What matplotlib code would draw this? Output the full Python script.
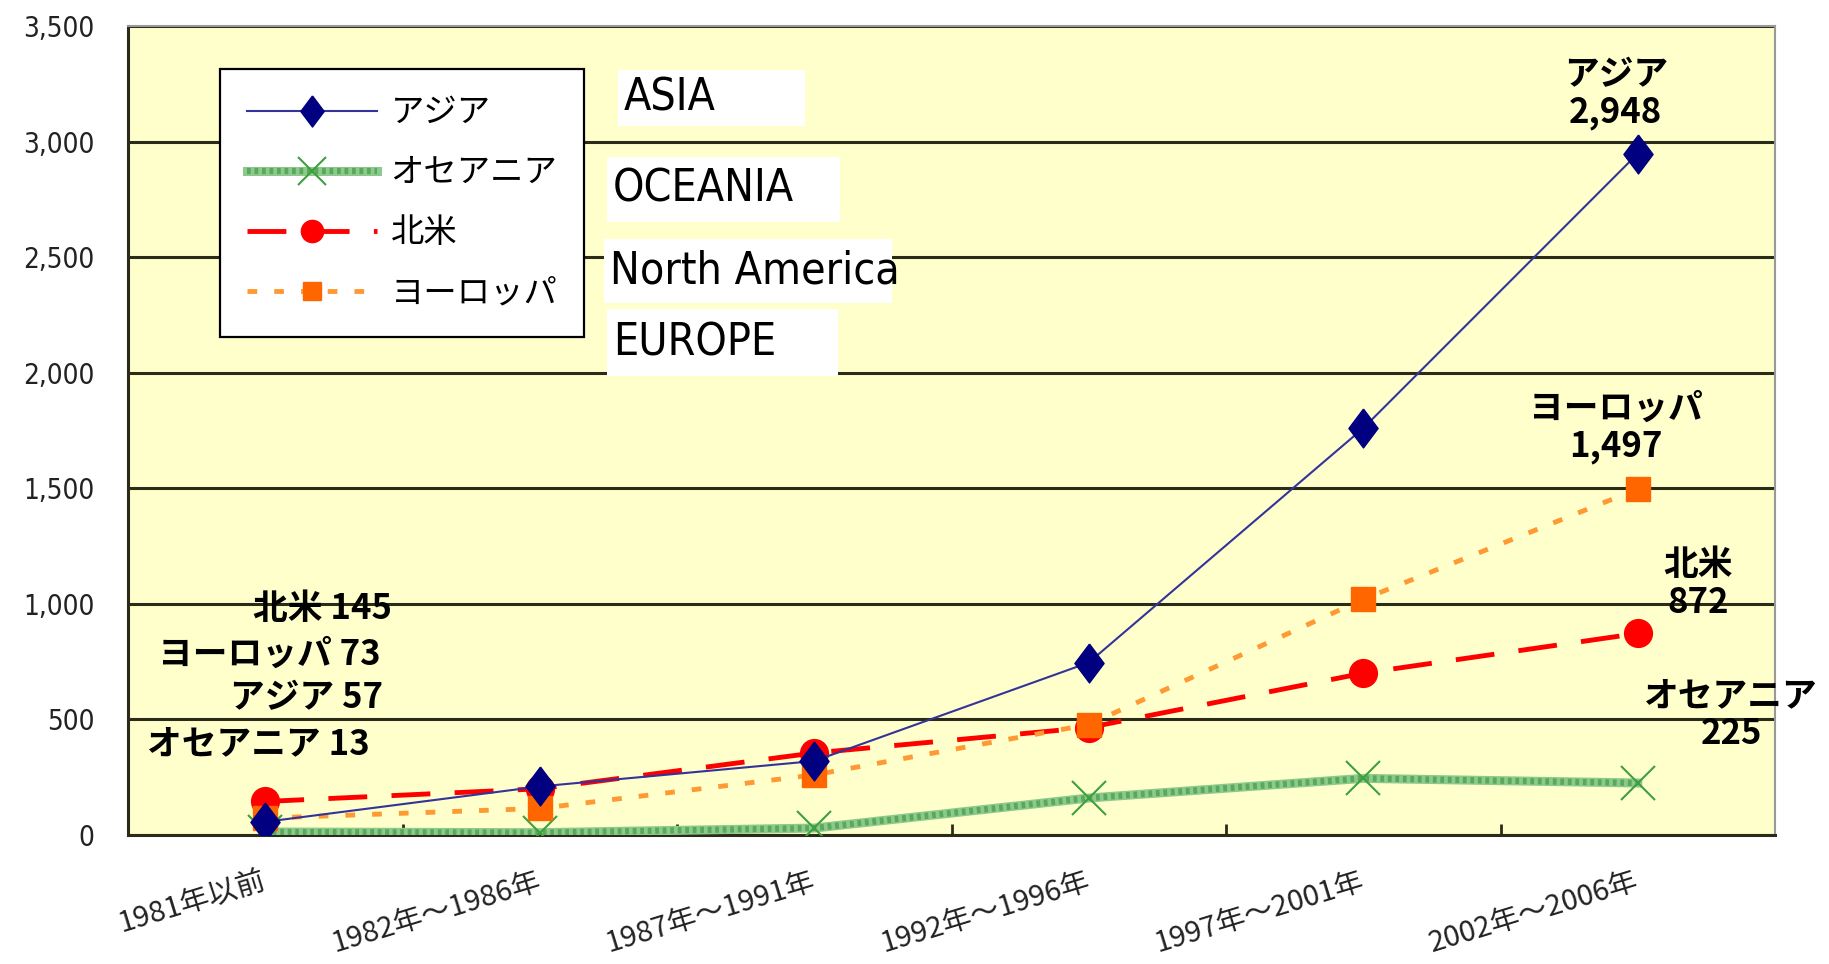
import matplotlib

matplotlib.use("Agg")

import matplotlib.pyplot as plt
from matplotlib.legend_handler import HandlerTuple
from matplotlib.patches import Rectangle
from matplotlib.ticker import FuncFormatter

JP = ["Noto Sans CJK JP", "DejaVu Sans"]
NARROW = ["DejaVu Sans"]

plt.rcParams["font.family"] = JP

# --- datos ---
periodos = ["1981年以前", "1982年～1986年", "1987年～1991年",
            "1992年～1996年", "1997年～2001年", "2002年～2006年"]
asia = [57, 210, 320, 746, 1760, 2948]
oceania = [13, 10, 30, 160, 245, 225]
norteamerica = [145, 200, 355, 465, 700, 872]
europa = [73, 115, 260, 478, 1020, 1497]

nombres = ["アジア", "オセアニア", "北米", "ヨーロッパ"]
ingles = ["ASIA", "OCEANIA", "North America", "EUROPE"]

W, H = 1829, 964
fig = plt.figure(figsize=(W / 100, H / 100), dpi=100)
ax = fig.add_axes([128 / W, 1 - 835 / H, 1647 / W, 809 / H])
ax.set_facecolor("#ffffcc")

x = list(range(len(periodos)))
rombo = [(0, 1), (0.75, 0), (0, -1), (-0.75, 0), (0, 1)]

l_asia, = ax.plot(x, asia, color="#333399", lw=1.5, marker=rombo, ms=28,
                  mfc="#000080", mec="#000080", label=nombres[0], zorder=4)
# oceania: banda verde + trama mas oscura
l_oc_base, = ax.plot(x, oceania, color="#8cc98c", lw=6.5, zorder=3)
l_oc, = ax.plot(x, oceania, color="#5aa85a", lw=4.5, dashes=(0.6, 0.6),
                marker="x", ms=25, mew=1.5, mec="#3f9f3f", zorder=3)
l_na, = ax.plot(x, norteamerica, color="#ff0000", lw=3.5, dashes=(8, 5),
                marker="o", ms=20, mfc="#ff0000", mec="#ff0000", zorder=3)
l_eu, = ax.plot(x, europa, color="#ff9933", lw=3.5, dashes=(2, 3.5),
                marker="s", ms=17, mfc="#ff6600", mec="#ff6600", zorder=3)

ax.set_xlim(-0.5, 5.5)
ax.set_ylim(0, 3500)
ax.set_yticks(range(0, 3501, 500))
ax.yaxis.set_major_formatter(FuncFormatter(lambda v, p: f"{int(v):,}"))
ax.grid(axis="y", color="#2b2b1a", lw=2.2, zorder=1)
ax.set_axisbelow(True)
ax.tick_params(axis="y", length=0, pad=24, labelcolor="#222222")
for lbl in ax.get_yticklabels():
    lbl.set_family(NARROW)
    lbl.set_fontstretch("condensed")
    lbl.set_fontsize(20)

ax.set_xticks(x)
ax.set_xticklabels(periodos, rotation=17, ha="right", va="center",
                   rotation_mode="anchor", fontsize=21, color="#222222")
ax.tick_params(axis="x", which="major", length=0, pad=33)
ax.set_xticks([i + 0.5 for i in x[:-1]], minor=True)
ax.tick_params(axis="x", which="minor", direction="in", length=8, width=2,
               color="#2b2b1a")

for lado in ["left", "bottom"]:
    ax.spines[lado].set_color("#2b2b1a")
    ax.spines[lado].set_linewidth(2.2)
for lado in ["top", "right"]:
    ax.spines[lado].set_color("#999999")
    ax.spines[lado].set_linewidth(1.5)

leg = ax.legend([l_asia, (l_oc_base, l_oc), l_na, l_eu], nombres,
                handler_map={tuple: HandlerTuple(ndivide=1)},
                loc="upper left", bbox_to_anchor=(0.046, 0.968),
                fontsize=24, handlelength=3.9, handletextpad=0.4,
                labelspacing=0.75, borderpad=0.8, markerscale=0.8,
                fancybox=False, framealpha=1, edgecolor="black")
leg.get_frame().set_linewidth(1.6)
leg.set_zorder(6)

# cajas con el nombre en ingles (pixeles de la imagen)
cajas = [(618, 70, 805, 126), (607, 157, 840, 222),
         (604, 239, 892, 303), (607, 309, 838, 376)]
for (x0, y0, x1, y1), txt in zip(cajas, ingles):
    fig.patches.append(Rectangle((x0 / W, 1 - y1 / H), (x1 - x0) / W,
                                 (y1 - y0) / H, transform=fig.transFigure,
                                 facecolor="white", edgecolor="none", zorder=7))
    fig.text((x0 + 6) / W, 1 - (y0 + y1) / 2 / H, txt, family=NARROW,
             fontstretch="condensed", fontsize=32, va="center", ha="left",
             zorder=8)

# etiquetas de valores
kw = dict(fontsize=25, weight="bold", zorder=9)
ax.text(0.46, 978, f"北米 {norteamerica[0]}", ha="right", va="center", **kw)
ax.text(0.42, 782, f"ヨーロッパ {europa[0]}", ha="right", va="center", **kw)
ax.text(0.43, 595, f"アジア {asia[0]}", ha="right", va="center", **kw)
ax.text(0.38, 393, f"オセアニア {oceania[0]}", ha="right", va="center", **kw)

kw2 = dict(ha="center", va="center", linespacing=1.1, **kw)
ax.text(4.92, 3207, f"アジア\n{asia[-1]:,}", **kw2)
ax.text(4.92, 1765, f"ヨーロッパ\n{europa[-1]:,}", **kw2)
ax.text(5.22, 1089, f"北米\n{norteamerica[-1]:,}", **kw2)
ax.text(5.34, 519, f"オセアニア\n{oceania[-1]:,}", **kw2)

fig.savefig("out.png", dpi=100)
